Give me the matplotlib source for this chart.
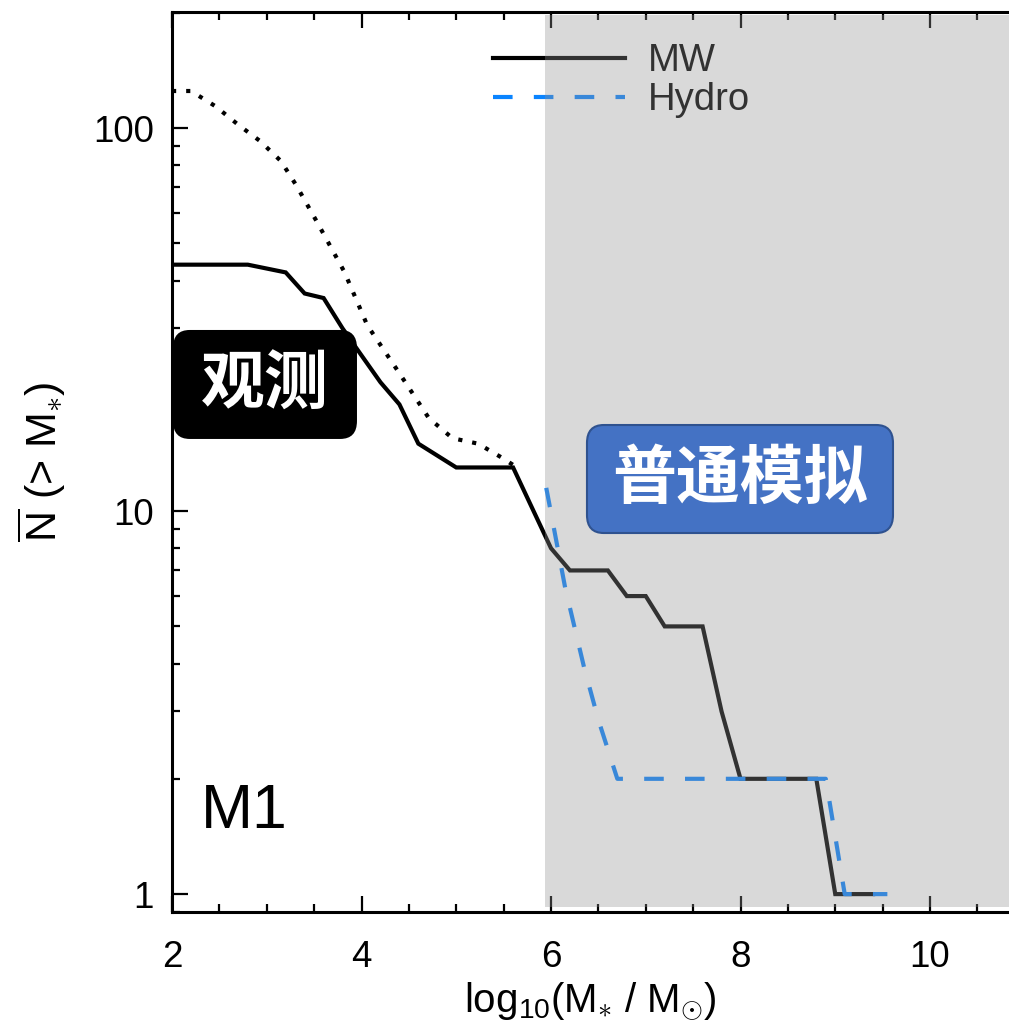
import matplotlib
matplotlib.use("Agg")
import matplotlib.pyplot as plt
from matplotlib.patches import FancyBboxPatch
from matplotlib.ticker import FixedLocator, LogLocator, NullFormatter, MultipleLocator

plt.rcParams['font.family'] = ['Liberation Sans', 'Noto Sans CJK SC', 'DejaVu Sans']
plt.rcParams['mathtext.fontset'] = 'custom'
plt.rcParams['mathtext.rm'] = 'Liberation Sans'
plt.rcParams['mathtext.it'] = 'Liberation Sans'
plt.rcParams['mathtext.bf'] = 'Liberation Sans:bold'

# ---- data ----
mw_x = [2.0, 2.8, 3.2, 3.4, 3.6, 3.8, 4.0, 4.2, 4.4, 4.6, 5.0, 5.6, 6.0, 6.2, 6.6,
        6.8, 7.0, 7.2, 7.6, 7.8, 8.0, 8.8, 9.0, 9.4]
mw_y = [44, 44, 42, 37, 36, 30, 25.5, 21.7, 19, 15, 13, 13, 8, 7, 7,
        6, 6, 5, 5, 3, 2, 2, 1, 1]

hydro_x = [5.95, 6.15, 6.35, 6.5, 6.7, 8.9, 9.1, 9.55]
hydro_y = [11.5, 6.3, 3.9, 2.85, 2.0, 2.0, 1.0, 1.0]

obs_x = [2.0, 2.2, 2.46, 2.7, 2.93, 3.15, 3.31, 3.53, 3.82, 4.06, 4.39, 4.71,
         4.96, 5.23, 5.49, 5.6]
obs_y = [125, 125, 114, 102, 92.5, 82, 71, 56.9, 42.1, 30.6, 23.1, 17.5,
         15.5, 15.0, 13.75, 13.2]

series_labels = ['MW', 'Hydro']
xticks = [2, 4, 6, 8, 10]
yticks = [1, 10, 100]
ytick_labels = ['1', '10', '100']
shade_start = 5.94

W, H = 1009, 1024
fig = plt.figure(figsize=(W / 100, H / 100), dpi=100)
ax = fig.add_axes([172 / W, 1 - 912 / H, (W - 172) / W, 900 / H])

ax.plot(mw_x, mw_y, color='black', lw=3.0, label=series_labels[0], zorder=3,
        solid_joinstyle='miter')
ax.plot(hydro_x, hydro_y, color='#0A84FF', lw=3.0, ls=(0, (4.7, 5.1)),
        label=series_labels[1], zorder=3)
ax.plot(obs_x, obs_y, color='black', lw=3.0, ls=(0, (1, 2.4)), zorder=3)

ax.set_yscale('log')
ax.set_xlim(2, 2 + (W - 172) / 94.75)
ax.set_ylim(0.898, 201)

ax.xaxis.set_major_locator(FixedLocator(xticks))
ax.xaxis.set_minor_locator(MultipleLocator(0.5))
ax.set_xticklabels([str(t) for t in xticks])
ax.yaxis.set_major_locator(FixedLocator(yticks))
ax.set_yticklabels(ytick_labels)
ax.yaxis.set_minor_locator(LogLocator(base=10, subs=range(2, 10)))
ax.yaxis.set_minor_formatter(NullFormatter())

ax.tick_params(which='both', direction='in', top=True, right=False, width=1.6,
               color='black')
ax.tick_params(which='major', length=11.3, labelsize=26.5)
ax.tick_params(which='minor', length=5.5)
ax.tick_params(axis='x', which='major', pad=20)
ax.tick_params(axis='y', which='major', pad=13)

for s in ['left', 'bottom', 'top']:
    ax.spines[s].set_linewidth(2.2)
ax.spines['right'].set_visible(False)

ax.set_xlabel(r'log$_{10}$(M$_{\ast}$ / M$_{\odot}$)', fontsize=29, labelpad=4)
ax.set_ylabel(r'$\overline{\mathrm{N}}$ (> M$_{\ast}$)', fontsize=31, labelpad=18)

leg = ax.legend(loc='upper left', bbox_to_anchor=((493 - 172) / 837, (912 - 43) / 900),
                frameon=False, fontsize=27.5, handlelength=3.45, handletextpad=0.6,
                labelspacing=0.08, borderpad=0, borderaxespad=0)

# gray overlay (simulation-dominated region)
ax.axvspan(shade_start, 12, ymin=0.006, ymax=0.997, color=(0.573, 0.573, 0.573),
           alpha=0.35, lw=0, zorder=6)

ax.text((201 - 172) / 837, (912 - 828) / 900, 'M1', transform=ax.transAxes,
        fontsize=45, ha='left', va='baseline', zorder=7)

# annotation boxes
b1 = FancyBboxPatch((0.0012, 0.5256), 0.2198, 0.1211,
                    boxstyle='round,pad=0,rounding_size=0.02',
                    transform=ax.transAxes, facecolor='black', edgecolor='black',
                    lw=0, zorder=10, clip_on=False)
ax.add_patch(b1)
ax.text(0.0012 + 0.2198 / 2, 0.5256 + 0.1211 / 2, '观测', transform=ax.transAxes,
        fontsize=46, fontweight='bold', color='white', ha='center', va='center',
        family=['Noto Sans CJK SC'], zorder=11)

b2 = FancyBboxPatch((0.4958, 0.4211), 0.3656, 0.12,
                    boxstyle='round,pad=0,rounding_size=0.02',
                    transform=ax.transAxes, facecolor='#4472C4', edgecolor='#2F528F',
                    lw=1.5, zorder=10, clip_on=False)
ax.add_patch(b2)
ax.text(0.4958 + 0.3656 / 2, 0.4211 + 0.12 / 2, '普通模拟', transform=ax.transAxes,
        fontsize=46, fontweight='bold', color='white', ha='center', va='center',
        family=['Noto Sans CJK SC'], zorder=11)

fig.savefig('out.png', dpi=100)
